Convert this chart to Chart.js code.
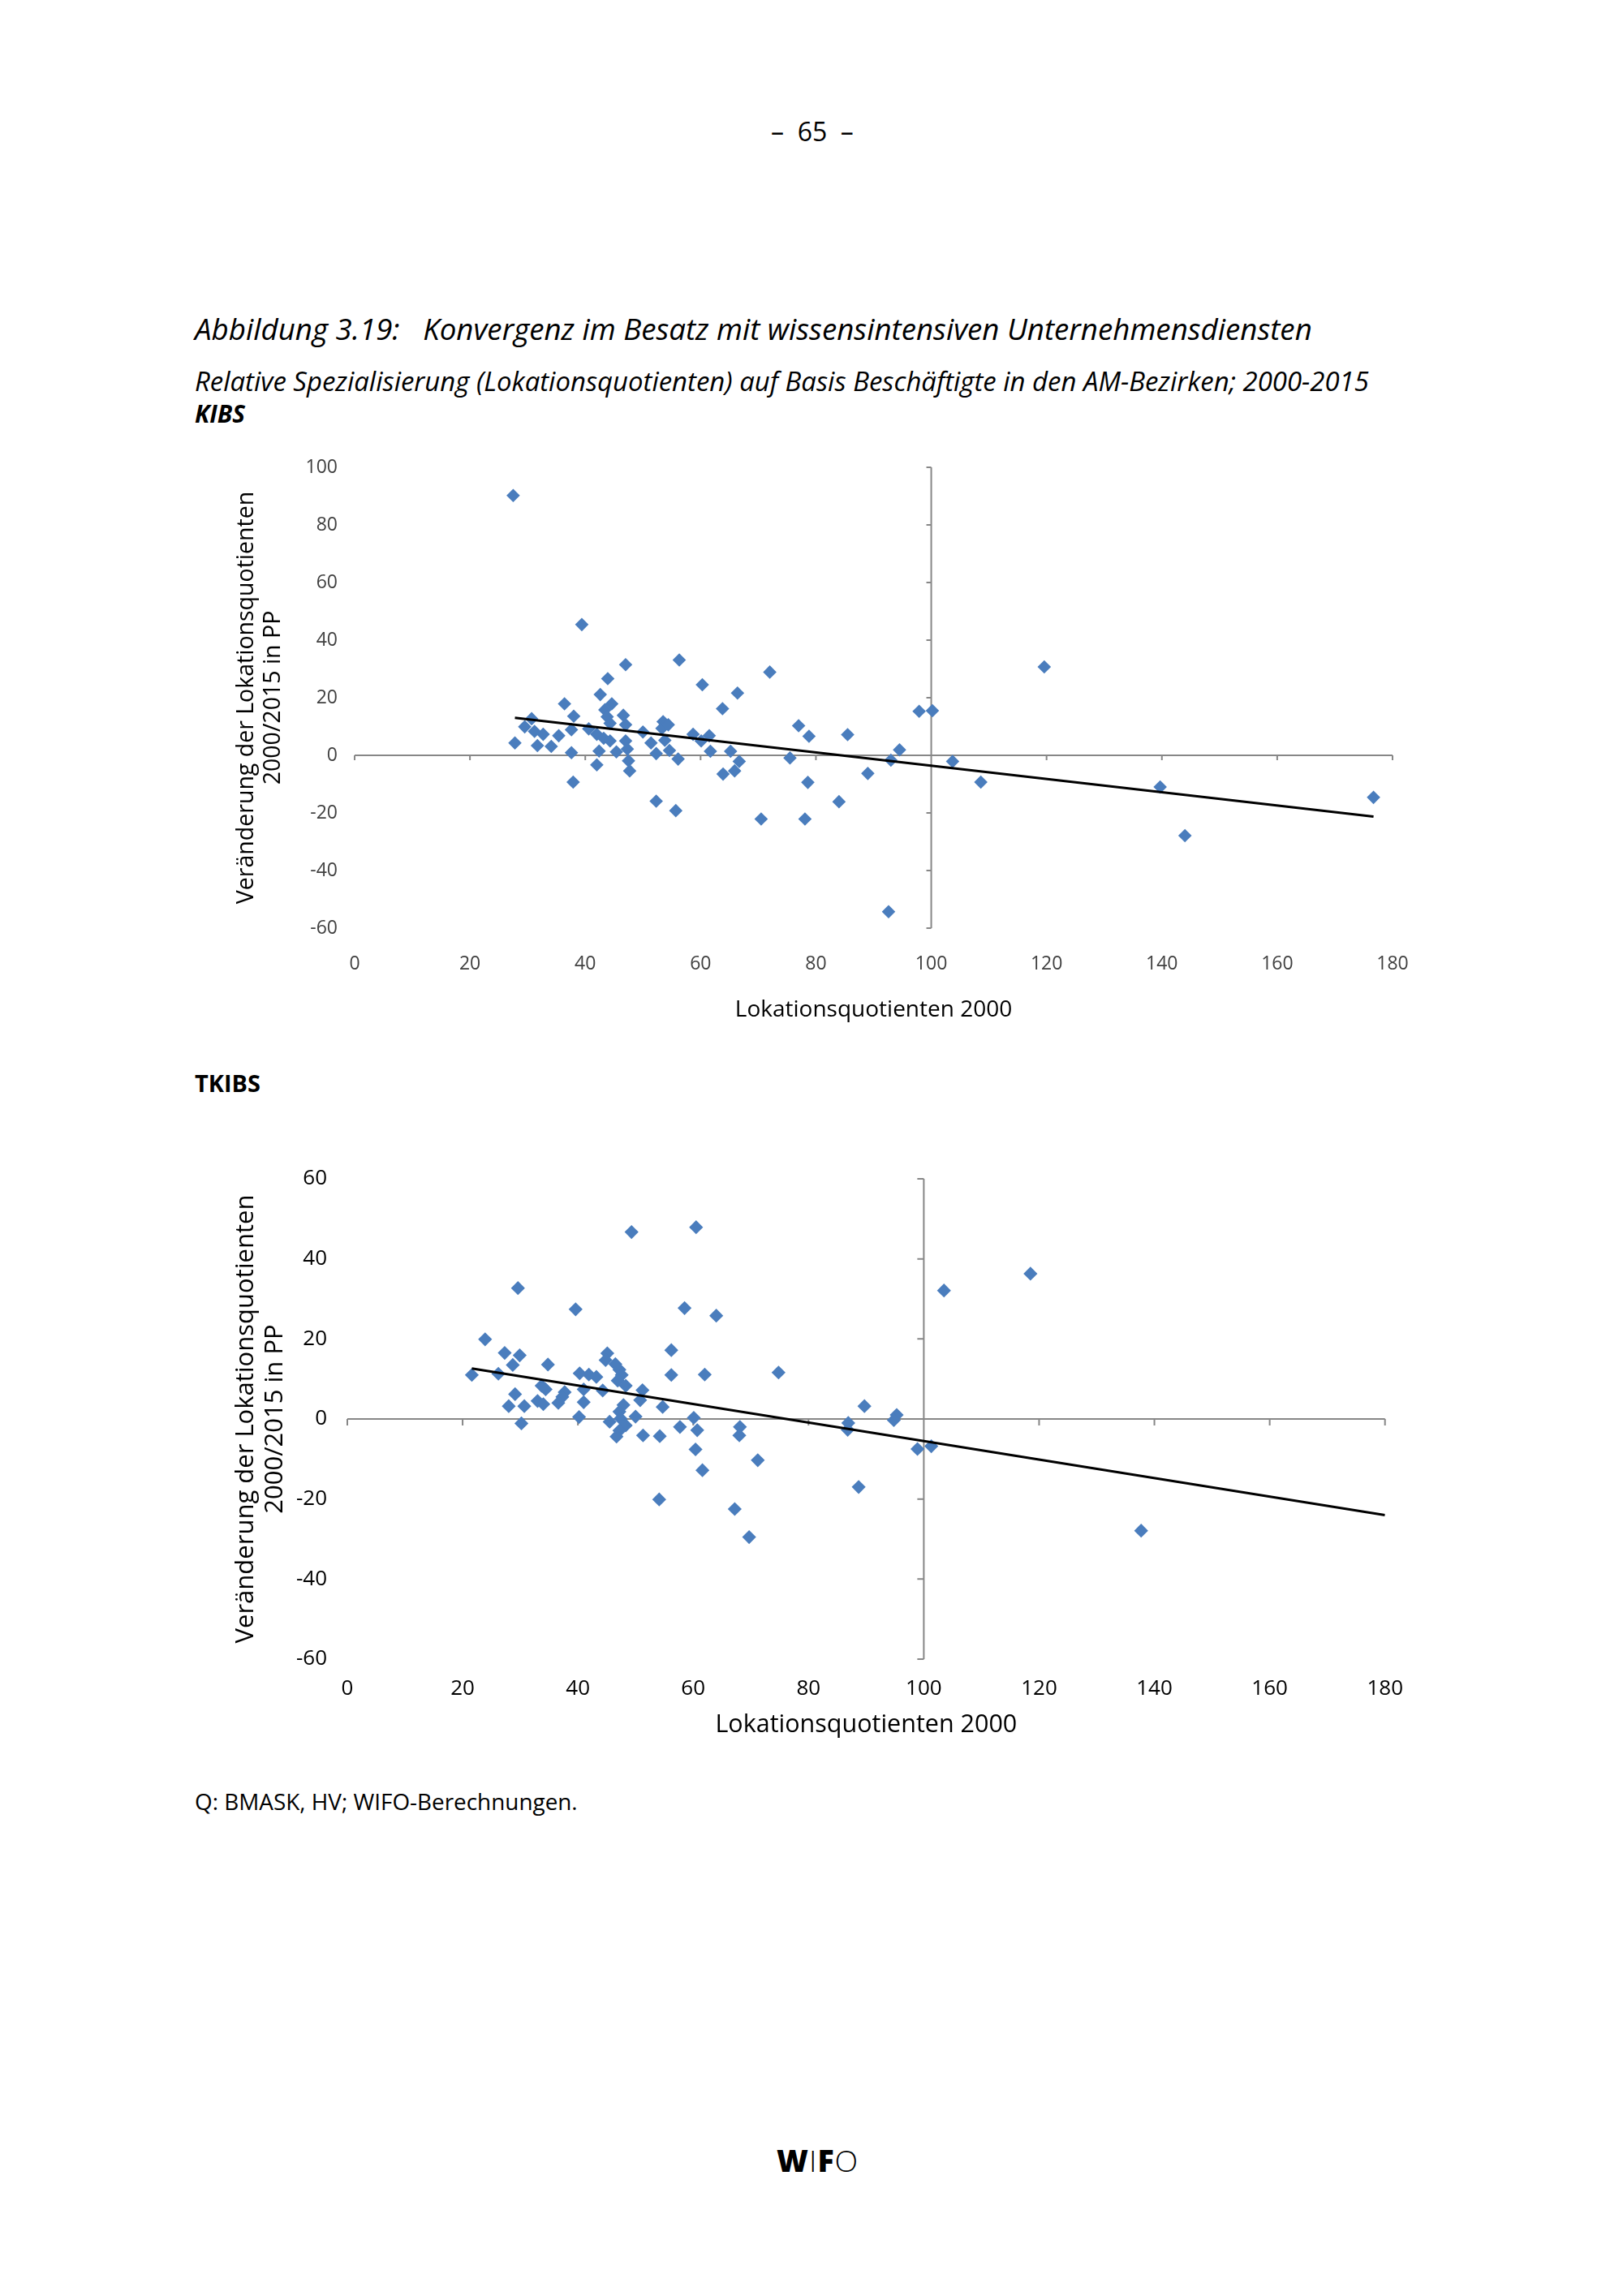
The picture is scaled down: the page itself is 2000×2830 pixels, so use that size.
<!DOCTYPE html>
<html>
<head>
<meta charset="utf-8">
<script src="https://cdn.jsdelivr.net/npm/chart.js@4.4.0/dist/chart.umd.min.js"></script>
<style>
html,body{margin:0;padding:0;background:#fff;}
body{width:2000px;height:2830px;position:relative;overflow:hidden;font-family:"Open Sans",sans-serif;color:#000;}
.t{position:absolute;left:240px;white-space:pre;line-height:1;transform:translateY(-50%);display:inline-block;}
canvas{position:absolute;}
</style>
</head>
<body>
<div class="t" id="pnum" style="left:950px;top:162px;font-size:32px;">–  65  –</div>
<div class="t" id="title" style="top:405px;font-size:33px;font-style:italic;" data-fit="1377">Abbildung 3.19:   Konvergenz im Besatz mit wissensintensiven Unternehmensdiensten</div>
<div class="t" id="sub" style="top:470px;font-size:28px;font-style:italic;" data-fit="1447">Relative Spezialisierung (Lokationsquotienten) auf Basis Beschäftigte in den AM-Bezirken; 2000-2015</div>
<div class="t" id="kibs" style="top:510px;font-size:28px;font-style:italic;font-weight:700;" data-fit="62">KIBS</div>
<div class="t" id="tkibs" style="top:1335px;font-size:33px;font-weight:700;" data-fit="81">TKIBS</div>
<div class="t" id="foot" style="top:2221px;font-size:26px;" data-fit="472">Q: BMASK, HV; WIFO-Berechnungen.</div>
<div class="t" id="logo" style="left:957px;top:2663px;font-size:40px;letter-spacing:1px;" data-fit="101"><span style="font-weight:800">W</span><span style="font-weight:300">I</span><span style="font-weight:800">F</span><span style="font-weight:300">O</span></div>

<canvas id="c1" width="1530" height="740" style="left:250px;top:540px;"></canvas>
<canvas id="c2" width="1500" height="760" style="left:250px;top:1410px;"></canvas>

<script>
// ---------- Data ----------
const xTickValues = [0, 20, 40, 60, 80, 100, 120, 140, 160, 180];
const kibsYTickValues = [-60, -40, -20, 0, 20, 40, 60, 80, 100];
const tkibsYTickValues = [-60, -40, -20, 0, 20, 40, 60];

const kibsX = [39.4,47.0,56.3,43.9,60.3,66.4,36.4,42.6,44.6,43.4,43.8,46.6,63.8,30.7,38.0,27.8,29.5,31.2,32.7,31.7,
  34.1,35.4,37.6,37.6,37.9,40.6,42.0,43.2,44.3,42.4,42.0,44.3,47.0,47.0,45.4,47.3,47.5,47.7,50.0,51.4,
  52.3,53.5,53.3,54.4,53.8,54.6,56.1,52.3,55.7,58.7,60.1,61.5,61.7,65.2,66.7,65.9,63.9,72.0,77.0,78.8,
  85.5,97.9,100.2,94.5,93.0,103.7,108.6,75.5,78.6,89.0,84.0,70.5,78.1,27.5,119.6,139.7,144.0,176.7,92.6];
const kibsY = [45.4,31.5,33.1,26.6,24.5,21.6,17.9,21.1,17.9,15.8,13.4,13.9,16.2,12.7,13.6,4.3,9.9,8.3,7.3,3.4,
  3.1,6.8,8.9,0.9,-9.3,9.2,7.3,5.9,5.0,1.5,-3.3,11.1,10.6,5.0,1.2,2.2,-1.9,-5.4,8.1,4.3,
  0.6,11.7,9.4,10.6,5.2,1.7,-1.3,-15.9,-19.2,7.3,5.0,6.8,1.4,1.4,-2.1,-5.4,-6.5,28.9,10.3,6.6,
  7.2,15.3,15.5,1.9,-1.7,-2.1,-9.3,-0.9,-9.4,-6.3,-16.1,-22.1,-22.1,90.2,30.7,-11.0,-27.9,-14.6,-54.3];
const kibsTrendX = [27.8, 176.7];
const kibsTrendY = [13.0, -21.3];

const tkibsX = [49.3,60.5,29.6,39.6,58.5,64.0,23.9,27.3,29.9,28.7,34.8,21.6,26.2,56.2,56.2,62.0,45.1,44.8,46.5,47.2,
  47.6,46.9,48.3,40.3,41.9,43.2,41.0,44.3,33.7,34.4,37.7,37.3,29.1,28.0,30.7,33.0,34.0,36.6,41.0,30.2,
  40.2,51.2,50.8,47.9,47.2,50.0,45.5,47.4,48.3,47.2,46.7,51.3,54.2,54.7,57.7,60.1,60.7,60.4,61.6,54.1,
  74.8,103.5,89.7,86.9,86.8,95.3,94.8,98.9,101.3,88.7,68.1,68.0,71.2,67.2,69.7,118.5,137.7];
const tkibsY = [46.7,47.9,32.7,27.4,27.7,25.8,19.9,16.5,15.9,13.5,13.6,11.0,11.3,17.2,11.0,11.1,16.4,14.7,13.7,12.3,
  11.0,9.6,8.3,11.4,11.1,10.5,7.4,7.1,8.3,7.4,6.7,5.5,6.2,3.2,3.2,4.5,3.7,4.0,4.2,-1.1,
  0.5,7.2,4.7,3.5,1.8,0.6,-0.7,0.1,-1.6,-2.9,-4.4,-4.1,-4.3,3.0,-2.0,0.3,-2.8,-7.6,-12.8,-20.1,
  11.6,32.1,3.2,-1.0,-2.7,1.0,-0.3,-7.5,-6.8,-17.0,-2.0,-4.1,-10.3,-22.5,-29.5,36.3,-27.9];
const tkibsTrendX = [21.6, 180];
const tkibsTrendY = [12.6, -24.0];

// ---------- Text fitting ----------
document.querySelectorAll('[data-fit]').forEach(el => {
  const target = parseFloat(el.dataset.fit);
  const fs = parseFloat(getComputedStyle(el).fontSize);
  const w = el.getBoundingClientRect().width;
  if (w > 0) el.style.fontSize = (fs * target / w) + 'px';
});

// ---------- Chart helpers ----------
const FONT = '"Open Sans", sans-serif';
const POINT_COLOR = '#4a7dbd';

const crossAxes = {
  id: 'crossAxes',
  beforeDatasetsDraw(chart, args, opts) {
    const {ctx, scales: {x, y}} = chart;
    const y0 = y.getPixelForValue(opts.yAt);
    const x0 = x.getPixelForValue(opts.xAt);
    ctx.save();
    ctx.strokeStyle = opts.color;
    ctx.lineWidth = opts.width;
    ctx.beginPath();
    ctx.moveTo(x.getPixelForValue(x.min), y0);
    ctx.lineTo(x.getPixelForValue(x.max), y0);
    x.ticks.forEach(t => { const px = x.getPixelForValue(t.value); ctx.moveTo(px, y0); ctx.lineTo(px, y0 + opts.tick); });
    ctx.moveTo(x0, y.getPixelForValue(y.max));
    ctx.lineTo(x0, y.getPixelForValue(y.min));
    y.ticks.forEach(t => { const py = y.getPixelForValue(t.value); ctx.moveTo(x0, py); ctx.lineTo(x0 - opts.tick, py); });
    ctx.stroke();
    ctx.restore();
  }
};

function pts(xs, ys) { return xs.map((v, i) => ({x: v, y: ys[i]})); }

function makeChart(id, c) {
  return new Chart(document.getElementById(id), {
    type: 'scatter',
    data: {
      datasets: [
        {
          type: 'line', data: pts(c.trendX, c.trendY), borderColor: '#000', borderWidth: 3,
          pointRadius: 0, fill: false, order: 0, tension: 0
        },
        {
          data: pts(c.xs, c.ys), pointStyle: 'rectRot', pointRadius: c.r, pointHoverRadius: c.r,
          backgroundColor: POINT_COLOR, borderColor: POINT_COLOR, borderWidth: 0, order: 1
        }
      ]
    },
    options: {
      responsive: false, animation: false, events: [],
      layout: {padding: c.pad},
      plugins: {
        legend: {display: false}, tooltip: {enabled: false},
        crossAxes: {xAt: 100, yAt: 0, color: '#878787', width: 2, tick: c.tick}
      },
      scales: {
        x: {
          type: 'linear', min: 0, max: 180,
          afterBuildTicks: s => { s.ticks = xTickValues.map(v => ({value: v})); },
          afterFit: s => { s.height = c.xH; },
          grid: {display: false, drawTicks: false}, border: {display: false},
          ticks: {padding: c.xTickPad, color: c.tickColor, font: {family: FONT, size: c.tickSize}},
          title: {display: true, text: 'Lokationsquotienten 2000', color: '#000',
            font: {family: FONT, size: c.xTitleSize}, padding: {top: 0, bottom: c.xTitlePad}}
        },
        y: {
          type: 'linear', min: c.yMin, max: c.yMax,
          afterBuildTicks: s => { s.ticks = c.yTicks.map(v => ({value: v})); },
          afterFit: s => { s.width = c.yW; },
          grid: {display: false, drawTicks: false}, border: {display: false},
          ticks: {padding: c.yTickPad, color: c.tickColor, font: {family: FONT, size: c.tickSize}},
          title: {display: true, text: ['Veränderung der Lokationsquotienten', '2000/2015 in PP'], color: '#000',
            font: {family: FONT, size: c.yTitleSize, lineHeight: c.yTitleLH}, padding: {top: c.yTitlePad, bottom: 0}}
        }
      }
    },
    plugins: [crossAxes]
  });
}

makeChart('c1', {
  xs: kibsX, ys: kibsY, trendX: kibsTrendX, trendY: kibsTrendY,
  yMin: -60, yMax: 100, yTicks: kibsYTickValues, r: 8.3, tick: 6,
  pad: {left: 0, right: 64, top: 36, bottom: 0},
  xH: 136, yW: 187, tickColor: '#404040', tickSize: 23,
  xTickPad: 31, yTickPad: 21, xTitleSize: 28, xTitlePad: 18, yTitleSize: 28.5, yTitleLH: 1.14, yTitlePad: 38
});

makeChart('c2', {
  xs: tkibsX, ys: tkibsY, trendX: tkibsTrendX, trendY: tkibsTrendY,
  yMin: -60, yMax: 60, yTicks: tkibsYTickValues, r: 8.6, tick: 8,
  pad: {left: 0, right: 34, top: 43, bottom: 0},
  xH: 125, yW: 178, tickColor: '#000', tickSize: 26,
  xTickPad: 21, yTickPad: 25, xTitleSize: 30.5, xTitlePad: 25, yTitleSize: 31, yTitleLH: 1.16, yTitlePad: 35
});
</script>
</body>
</html>
